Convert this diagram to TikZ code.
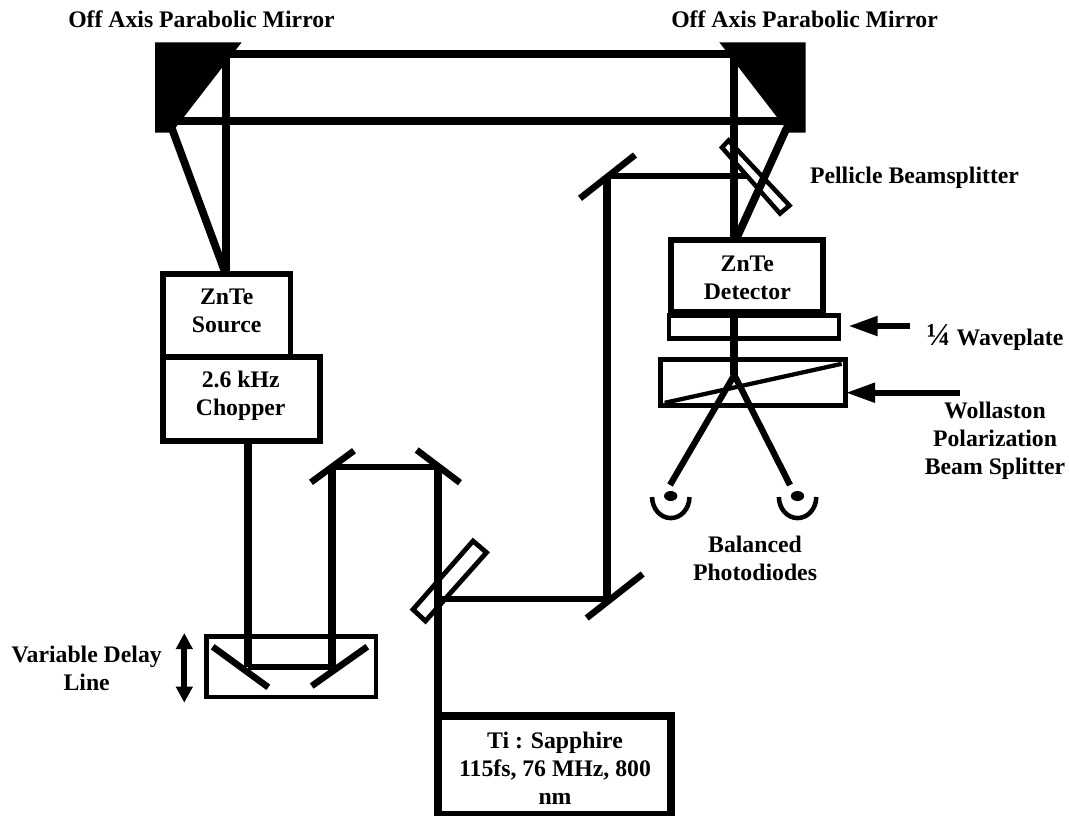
\documentclass[tikz,border=0pt]{standalone}
\usepackage{fontspec}
\setmainfont{Liberation Serif}
\usetikzlibrary{arrows.meta}

\tikzset{
    beam/.style={line width=5.8pt},
    thinbeam/.style={line width=4.7pt},
    mirror/.style={line width=4.9pt},
    instr/.style={draw, line width=#1, inner sep=0pt, outer sep=0pt},
    instr/.default=4.3pt,
    txt/.style={font=\fontsize{17.8}{21}\bfseries\selectfont, align=center, inner sep=0pt},
    pointer/.style={line width=4.5pt, -{Triangle[length=22pt, width=14pt]}},
}

\begin{document}
\begin{tikzpicture}[x=0.75pt, y=-0.75pt]
    \useasboundingbox (0,0) rectangle (1069,815);

    % parabolic mirrors
    \fill (155,42.3) -- (241.7,42.3) -- (171.7,132.7) -- (155,132.7) -- cycle;
    \fill (805.7,42.3) -- (719.3,42.3) -- (789,132.7) -- (805.7,132.7) -- cycle;

    % instruments
    \node[instr, minimum width=127.5*0.75pt, minimum height=83*0.75pt] (source) at (226.7,315.5) {};
    \node[instr, minimum width=157*0.75pt, minimum height=84*0.75pt] (chopper) at (241.4,399.2) {};
    \node[instr, minimum width=152*0.75pt, minimum height=72*0.75pt] (detector) at (747.2,276) {};
    \node[instr=3.4pt, minimum width=170*0.75pt, minimum height=23*0.75pt] (waveplate) at (754.2,327) {};
    \node[instr=3.8pt, minimum width=185*0.75pt, minimum height=46*0.75pt] (wollaston) at (753.2,382.8) {};
    \node[instr=3.5pt, minimum width=169.5*0.75pt, minimum height=60.5*0.75pt] (delay) at (291.3,666.8) {};
    \node[instr=6pt, minimum width=233*0.75pt, minimum height=99*0.75pt] (laser) at (554.5,765.5) {};

    % beam corners
    \coordinate (pmL) at (171.7,128);
    \coordinate (pmLtop) at (226.3,54.3);
    \coordinate (pmLmid) at (175,121);
    \coordinate (pmR) at (786.7,128);
    \coordinate (pmRtop) at (734.3,54.3);
    \coordinate (pmRmid) at (785,121);
    \coordinate (pickoff) at (746,176);
    \coordinate (foldA) at (607.3,176);
    \coordinate (foldB) at (607.3,599.3);
    \coordinate (split) at (438,599.3);
    \coordinate (retroA) at (438,467);
    \coordinate (retroB) at (332.3,467);
    \coordinate (delayR) at (332.3,666.7);
    \coordinate (delayL) at (248,666.7);
    \coordinate (prism) at (734.3,375);
    \coordinate (diodeL) at (670,485);
    \coordinate (diodeR) at (790,485);

    % THz path
    \draw[beam] (pmLtop) -- (pmRtop);
    \draw[beam] (pmLmid) -- (pmRmid);
    \draw[beam] (226.3,50.3) -- (source.north -| pmLtop);
    \draw[beam] (pmL) -- (225,272);
    \draw[beam] (734.3,50.3) -- (detector.north -| pmRtop);
    \draw[beam] (pmR) -- (736.7,238);

    % probe path
    \draw[thinbeam] (split) -- (foldB);
    \draw[beam] (foldB) -- (foldA);
    \draw[thinbeam] (foldA) -- (pickoff);
    \draw[beam] (laser.north -| split) -- (retroA);
    \draw[thinbeam] (retroA) -- (retroB);
    \draw[beam] (retroB) -- (delayR);
    \draw[thinbeam] (delayR) -- (delayL);
    \draw[beam] (delayL) -- (chopper.south -| delayL);

    % detection arm
    \draw[beam] (detector.south -| prism) -- (prism);
    \draw[thinbeam] (prism) -- (diodeL);
    \draw[thinbeam] (prism) -- (diodeR);
    \draw[line width=3.2pt] (wollaston.south west) ++(4,-3) -- ([shift={(-4,4)}]wollaston.north east);

    % flat mirrors
    \foreach \xa/\ya/\xb/\yb in {311/482.3/354/450.7, 416.7/450/460/482.7, 580/198.3/635/155, 586.7/618/642.7/574,
                                 212.7/646.7/268.3/687.3, 311.7/686/367.3/646.7} {
        \draw[mirror] (\xa,\ya) -- (\xb,\yb);
    }

    % beamsplitters
    \draw[line width=3.6pt] (473,541) -- (486.5,552.5) -- (425.5,621) -- (413,609.5) -- cycle;
    \draw[line width=3.4pt] (722,147.5) -- (728.5,140.5) -- (789.5,205.5) -- (780,213.5) -- cycle;

    % photodiodes
    \foreach \x in {670.7, 797.5} {
        \fill (\x,496) ellipse (5pt and 3.75pt);
        \draw[line width=3.4pt] (\x-18.6,497) arc[start angle=180, end angle=360, x radius=14pt, y radius=15.8pt];
    }

    % pointers
    \coordinate (waveplateTail) at (910,326);
    \coordinate (waveplateTip) at (848.3,326);
    \coordinate (wollastonTail) at (960,392.7);
    \draw[pointer] (waveplateTail) -- (waveplateTip);
    \draw[pointer] (wollastonTail) -- (wollaston.east |- wollastonTail);
    \coordinate (stageTop) at (184.3,633);
    \coordinate (stageBot) at (184.3,702.7);
    \draw[line width=4.5pt, {Triangle[length=12pt, width=12pt]}-{Triangle[length=12pt, width=12pt]}] (stageTop) -- (stageBot);

    % labels
    \node[txt] (pmLtxt) at (201.5,19) {Off Axis Parabolic Mirror};
    \node[txt] (pmRtxt) at (804.5,19) {Off Axis Parabolic Mirror};
    \node[txt] (pellicletxt) at (914.5,178) {Pellicle Beamsplitter};
    \node[txt] (sourcetxt) at (226.7,311) {ZnTe\\Source};
    \node[txt] (choppertxt) at (240.7,396) {2.6 kHz\\Chopper};
    \node[txt] (detectortxt) at (747.3,278) {ZnTe\\Detector};
    \node[txt, anchor=base] (waveplatetxt) at (995,345) {{\fontsize{24}{21}\selectfont ¼} Waveplate};
    \node[txt] (wollastontxt) at (995,441) {Wollaston\\Polarization\\Beam Splitter};
    \node[txt] (diodetxt) at (755,558) {Balanced\\Photodiodes};
    \node[txt] (delaytxt) at (86.7,668) {Variable Delay\\Line};
    \node[txt] (lasertxt) at (555,768) {Ti : Sapphire\\115fs, 76 MHz, 800\\nm};
\end{tikzpicture}
\end{document}
